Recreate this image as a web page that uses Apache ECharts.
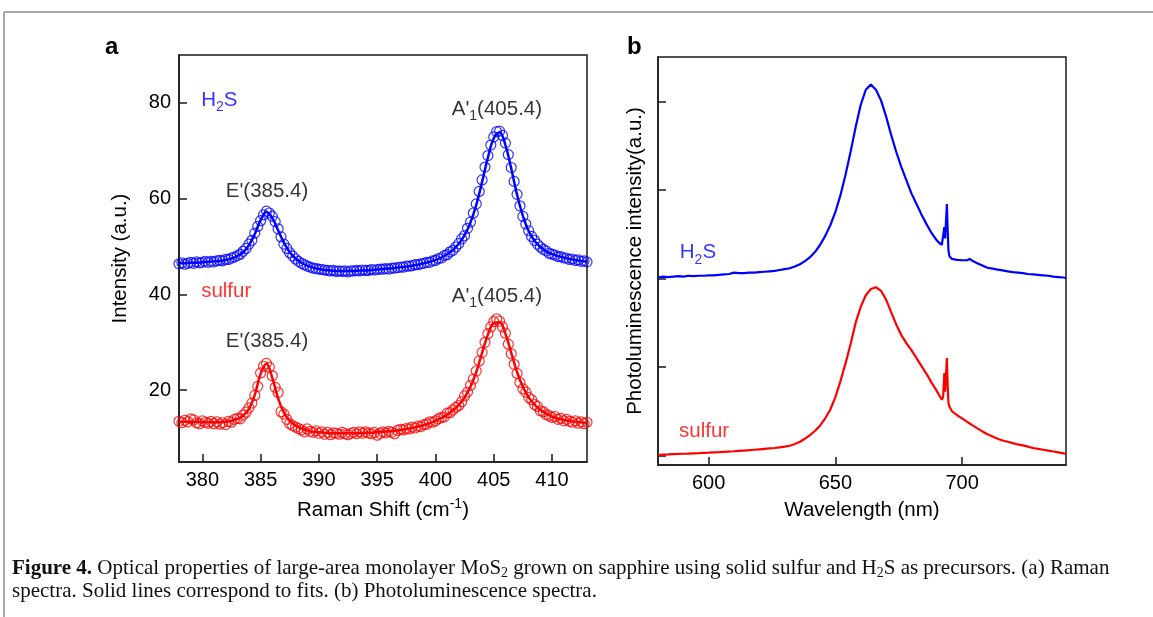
<!DOCTYPE html>
<html>
<head>
<meta charset="utf-8">
<script src="https://cdn.jsdelivr.net/npm/echarts@6.0.0/dist/echarts.min.js"></script>
<style>
html,body{margin:0;padding:0;background:#fff;}
#chart{width:1153px;height:617px;}
</style>
</head>
<body>
<div id="chart"></div>
<script>
// ---------------- Panel a: Raman spectra ----------------
const ramanStart = 378, ramanMarkerStep = 0.25, ramanFitStep = 0.5;
const ramanXTicks = [380, 385, 390, 395, 400, 405, 410];
const ramanYTicks = [20, 40, 60, 80];

const h2sRamanPoints = [
  46.4,46.6,46.3,46.5, 46.7,46.5,46.8,46.6, 46.7,46.9,46.7,46.9, 46.8,47.0,47.1,47.0,
  47.3,47.3,47.6,47.8, 48.1,48.4,49.0,49.6, 50.5,51.3,52.8,54.2, 55.4,56.6,57.4,57.0,
  56.3,55.2,53.7,52.0, 50.5,49.6,48.7,48.0, 47.4,46.9,46.5,46.2, 45.9,45.7,45.5,45.4,
  45.3,45.2,45.1,45.0, 44.9,45.0,44.8,44.9, 44.8,44.9,44.7,44.9, 44.9,45.0,44.9,45.1,
  45.0,45.0,45.2,45.1, 45.2,45.3,45.3,45.4, 45.3,45.5,45.5,45.6, 45.7,45.7,45.9,45.9,
  46.0,46.2,46.2,46.4, 46.5,46.7,46.7,47.0, 47.1,47.5,47.6,48.1, 48.3,48.9,49.2,49.9,
  50.6,51.6,52.3,53.8, 55.1,57.0,58.9,61.5, 63.9,66.6,69.0,71.2, 72.9,74.0,74.1,73.2,
  71.6,69.2,66.5,63.6, 60.9,58.5,56.3,54.7, 53.3,52.1,51.3,50.5, 49.9,49.4,49.1,48.6,
  48.4,48.2,47.9,47.9, 47.6,47.6,47.3,47.4, 47.1,47.2,46.9,47.0, 46.8
];
const sulfurRamanPoints = [
  13.5,13.2,13.7,13.4, 14.0,13.8,13.2,13.0, 13.6,13.3,13.1,13.5, 13.0,13.4,12.9,13.2,
  12.8,13.5,13.3,13.9, 14.1,14.0,14.8,15.4, 16.3,17.3,18.9,20.8, 23.6,25.0,25.6,24.8,
  23.0,20.6,19.5,15.5, 15.0,13.9,13.0,12.6, 12.3,12.0,11.7,11.3, 11.9,11.4,11.2,11.5,
  11.0,11.3,10.8,11.2, 10.7,11.1,11.0,10.8, 11.2,10.9,10.7,11.0, 11.2,10.9,11.3,11.0,
  11.3,11.1,10.9,11.2, 10.6,11.0,11.3,11.1, 11.4,11.2,10.9,11.6, 11.8,11.7,12.0,11.9,
  12.3,12.1,12.5,12.4, 12.8,12.9,13.4,13.3, 13.6,14.0,14.3,14.4, 15.2,15.3,15.9,16.4,
  16.8,17.6,18.8,19.6, 21.0,22.3,24.0,26.1, 27.9,30.0,31.8,33.2, 34.3,34.9,34.4,33.2,
  31.9,29.6,27.6,25.4, 23.5,21.6,20.3,19.6, 18.5,18.0,17.0,16.6, 15.7,15.5,14.9,14.7,
  14.3,14.5,13.9,14.1, 13.6,13.9,13.5,13.3, 13.6,13.1,13.4,13.0, 13.3
];
const h2sRamanFit = [
  46.5,46.5,46.6,46.6,46.7,46.8,46.9,47.0,47.2,47.5,
  48.0,48.8,50.3,52.6,55.5,57.2,56.0,53.4,50.8,48.8,
  47.5,46.6,46.0,45.6,45.3,45.1,45.0,44.9,44.9,44.9,
  44.9,45.0,45.0,45.1,45.2,45.3,45.4,45.5,45.7,45.8,
  46.0,46.2,46.5,46.8,47.2,47.7,48.4,49.3,50.6,52.4,
  55.0,58.7,63.5,68.6,72.6,73.8,71.2,66.3,60.8,56.4,
  53.2,51.2,49.9,49.0,48.4,48.0,47.7,47.4,47.2,47.0,46.8
];
const sulfurRamanFit = [
  13.4,13.4,13.4,13.4,13.3,13.3,13.3,13.3,13.4,13.6,
  14.0,14.7,16.1,19.0,23.4,25.5,22.6,18.3,15.3,13.6,
  12.6,12.0,11.6,11.3,11.2,11.1,11.0,11.0,11.0,11.0,
  11.0,11.0,11.1,11.1,11.2,11.3,11.4,11.5,11.7,11.9,
  12.1,12.4,12.7,13.1,13.6,14.2,14.9,15.8,16.9,18.5,
  20.7,23.8,27.8,31.6,34.0,34.2,31.8,27.8,23.8,20.7,
  18.5,17.0,15.9,15.1,14.5,14.1,13.8,13.6,13.4,13.3,13.2
];

// ---------------- Panel b: PL spectra ----------------
const plXTicks = [600, 650, 700];
const plYTicks = [0, 1, 2, 3, 4];
const plWavelength = [
  580,582,584,586,588,590,592,594,596,598,
  600,602,604,606,608,610,612,614,616,618,
  620,622,624,626,628,630,632,634,636,638,
  640,642,644,646,648,650,652,654,656,658,
  660,662,664,666,668,670,672,674,676,678,
  680,682,684,686,688,690,691,692,692.5,693,
  693.3,693.6,694,694.3,694.6,695,696,698,700,702,
  703,704,706,708,710,712,714,716,718,720,
  722,724,726,728,730,732,734,736,738,740,741
];
const plH2S = [
  2.01,2.02,2.015,2.02,2.025,2.02,2.03,2.025,2.03,2.03,
  2.035,2.035,2.04,2.045,2.05,2.065,2.06,2.06,2.065,2.065,
  2.07,2.075,2.08,2.085,2.095,2.105,2.115,2.135,2.16,2.195,
  2.24,2.30,2.38,2.48,2.60,2.75,2.94,3.17,3.43,3.71,
  3.96,4.13,4.19,4.13,4.01,3.83,3.62,3.43,3.26,3.11,
  2.96,2.84,2.72,2.61,2.51,2.43,2.40,2.38,2.40,2.58,
  2.45,2.44,2.84,2.55,2.32,2.25,2.22,2.21,2.205,2.205,
  2.22,2.20,2.17,2.145,2.12,2.11,2.10,2.09,2.08,2.07,
  2.065,2.06,2.05,2.045,2.04,2.035,2.03,2.02,2.015,2.01,2.005
];
const plSulfur = [
  0.005,0.01,0.012,0.015,0.018,0.02,0.022,0.025,0.027,0.03,
  0.032,0.035,0.038,0.042,0.045,0.048,0.052,0.056,0.06,0.065,
  0.07,0.075,0.08,0.085,0.092,0.10,0.11,0.13,0.155,0.19,
  0.23,0.28,0.34,0.42,0.52,0.66,0.84,1.04,1.26,1.50,
  1.68,1.81,1.88,1.90,1.86,1.76,1.62,1.48,1.36,1.27,
  1.19,1.10,1.01,0.92,0.82,0.73,0.68,0.63,0.66,0.93,
  0.72,0.70,1.10,0.80,0.60,0.55,0.50,0.455,0.42,0.38,
  0.362,0.343,0.307,0.272,0.24,0.215,0.19,0.17,0.155,0.14,
  0.125,0.115,0.10,0.085,0.075,0.065,0.055,0.045,0.035,0.025,0.02
];

// annotations: [text, x, y, colour, align]
const labelsA = [
  ['H{s|2}S', 379.9, 80.5, '#0000ff', 'left'],
  ["E'(385.4)", 385.55, 61.6, '#000000', 'center'],
  ["A'{s|1}(405.4)", 405.27, 78.7, '#000000', 'center'],
  ['sulfur', 379.9, 40.6, '#ff0000', 'left'],
  ["E'(385.4)", 385.55, 30.2, '#000000', 'center'],
  ["A'{s|1}(405.4)", 405.27, 39.6, '#000000', 'center']
];
const labelsB = [
  ['H{s|2}S', 588.6, 2.29, '#0000ff', 'left'],
  ['sulfur', 588.3, 0.27, '#ff0000', 'left']
];

// ---------------- build ----------------
const BLUE = '#0000ff', RED = '#ff0000', INK = '#1a1a1a';
const FONT = '"Liberation Sans", Arial, sans-serif';

function pairs(xs, ys) { return ys.map((v, i) => [xs[i], v]); }
function grid(start, step, ys) { return ys.map((v, i) => [+(start + i * step).toFixed(3), v]); }

function axisCommon(ticks, showLabels) {
  return {
    axisLine: { show: true, onZero: false, lineStyle: { color: INK, width: 1.5 } },
    axisTick: { show: true, inside: true, length: 8, customValues: ticks, lineStyle: { color: INK, width: 1.5 } },
    axisLabel: { show: showLabels, customValues: ticks, fontSize: 20, color: '#000', fontFamily: FONT, margin: 8 },
    splitLine: { show: false }
  };
}

function labelSeries(list, xi, yi) {
  return {
    type: 'scatter', xAxisIndex: xi, yAxisIndex: yi, symbolSize: 0, silent: true, z: 10,
    data: list.map(l => ({
      value: [l[1], l[2]],
      label: {
        show: true, formatter: l[0], position: [0, 0], align: l[4], verticalAlign: 'middle',
        color: l[3], fontSize: 20.5, fontFamily: FONT, lineHeight: 28,
        rich: { s: { fontSize: 14, color: l[3], fontFamily: FONT, verticalAlign: 'bottom', lineHeight: 16 } }
      }
    }))
  };
}

const chart = echarts.init(document.getElementById('chart'), null, { renderer: 'canvas' });
const option = {
  animation: false,
  backgroundColor: '#ffffff',
  grid: [
    { left: 179, top: 55, right: 566, bottom: 155, show: true, borderColor: INK, borderWidth: 1.5, backgroundColor: 'transparent' },
    { left: 658, top: 57, right: 87, bottom: 152, show: true, borderColor: INK, borderWidth: 1.5, backgroundColor: 'transparent' }
  ],
  xAxis: [
    Object.assign(axisCommon(ramanXTicks, true), {
      gridIndex: 0, type: 'value', min: 378, max: 413,
      name: 'Raman Shift (cm{sup|-1})', nameLocation: 'middle', nameGap: 35,
      nameTextStyle: { fontSize: 20.5, color: '#000', fontFamily: FONT, lineHeight: 26,
        rich: { sup: { fontSize: 14, color: '#000', fontFamily: FONT, verticalAlign: 'top', lineHeight: 14 } } }
    }),
    Object.assign(axisCommon(plXTicks, true), {
      gridIndex: 1, type: 'value', min: 580, max: 741,
      name: 'Wavelength (nm)', nameLocation: 'middle', nameGap: 35,
      nameTextStyle: { fontSize: 20.5, color: '#000', fontFamily: FONT }
    })
  ],
  yAxis: [
    Object.assign(axisCommon(ramanYTicks, true), {
      gridIndex: 0, type: 'value', min: 5, max: 90,
      name: 'Intensity (a.u.)', nameLocation: 'middle', nameGap: 48, nameRotate: 90,
      nameTextStyle: { fontSize: 20.5, color: '#000', fontFamily: FONT }
    }),
    Object.assign(axisCommon(plYTicks, false), {
      gridIndex: 1, type: 'value', min: -0.107, max: 4.5,
      name: 'Photoluminescence intensity(a.u.)', nameLocation: 'middle', nameGap: 12, nameRotate: 90,
      nameTextStyle: { fontSize: 20.5, color: '#000', fontFamily: FONT }
    })
  ],
  series: [
    { type: 'scatter', xAxisIndex: 0, yAxisIndex: 0, symbol: 'circle', symbolSize: 10,
      itemStyle: { color: 'rgba(0,0,0,0)', borderColor: BLUE, borderWidth: 1.2 },
      data: grid(ramanStart, ramanMarkerStep, h2sRamanPoints) },
    { type: 'scatter', xAxisIndex: 0, yAxisIndex: 0, symbol: 'circle', symbolSize: 10,
      itemStyle: { color: 'rgba(0,0,0,0)', borderColor: RED, borderWidth: 1.2 },
      data: grid(ramanStart, ramanMarkerStep, sulfurRamanPoints) },
    { type: 'line', xAxisIndex: 0, yAxisIndex: 0, showSymbol: false, smooth: 0.4, z: 5,
      lineStyle: { color: BLUE, width: 2.5 }, data: grid(ramanStart, ramanFitStep, h2sRamanFit) },
    { type: 'line', xAxisIndex: 0, yAxisIndex: 0, showSymbol: false, smooth: 0.4, z: 5,
      lineStyle: { color: RED, width: 2.5 }, data: grid(ramanStart, ramanFitStep, sulfurRamanFit) },
    { type: 'line', xAxisIndex: 1, yAxisIndex: 1, showSymbol: false, smooth: false,
      lineStyle: { color: BLUE, width: 2.2 }, data: pairs(plWavelength, plH2S) },
    { type: 'line', xAxisIndex: 1, yAxisIndex: 1, showSymbol: false, smooth: false,
      lineStyle: { color: RED, width: 2.2 }, data: pairs(plWavelength, plSulfur) },
    labelSeries(labelsA, 0, 0),
    labelSeries(labelsB, 1, 1)
  ],
  graphic: [
    { type: 'line', shape: { x1: 4, y1: 12, x2: 1153, y2: 12 }, style: { stroke: '#8c8c8c', lineWidth: 1.5 } },
    { type: 'line', shape: { x1: 4, y1: 12, x2: 4, y2: 617 }, style: { stroke: '#8c8c8c', lineWidth: 1.5 } },
    { type: 'text', left: 105, top: 35, style: { text: 'a', font: 'bold 24px ' + FONT, fill: '#000' } },
    { type: 'text', left: 627, top: 35, style: { text: 'b', font: 'bold 24px ' + FONT, fill: '#000' } },
    { type: 'text', left: 12, top: 557, style: {
      text: '{b|Figure 4.} Optical properties of large-area monolayer MoS{s|2} grown on sapphire using solid sulfur and H{s|2}S as precursors. (a) Raman\nspectra. Solid lines correspond to fits. (b) Photoluminescence spectra.',
      font: '21px "Liberation Serif", serif', fill: '#111', lineHeight: 23,
      rich: {
        b: { font: 'bold 21px "Liberation Serif", serif', fill: '#111', lineHeight: 23 },
        s: { font: '14px "Liberation Serif", serif', fill: '#111', verticalAlign: 'bottom', lineHeight: 16 }
      }
    } }
  ]
};
chart.setOption(option);
</script>
</body>
</html>
